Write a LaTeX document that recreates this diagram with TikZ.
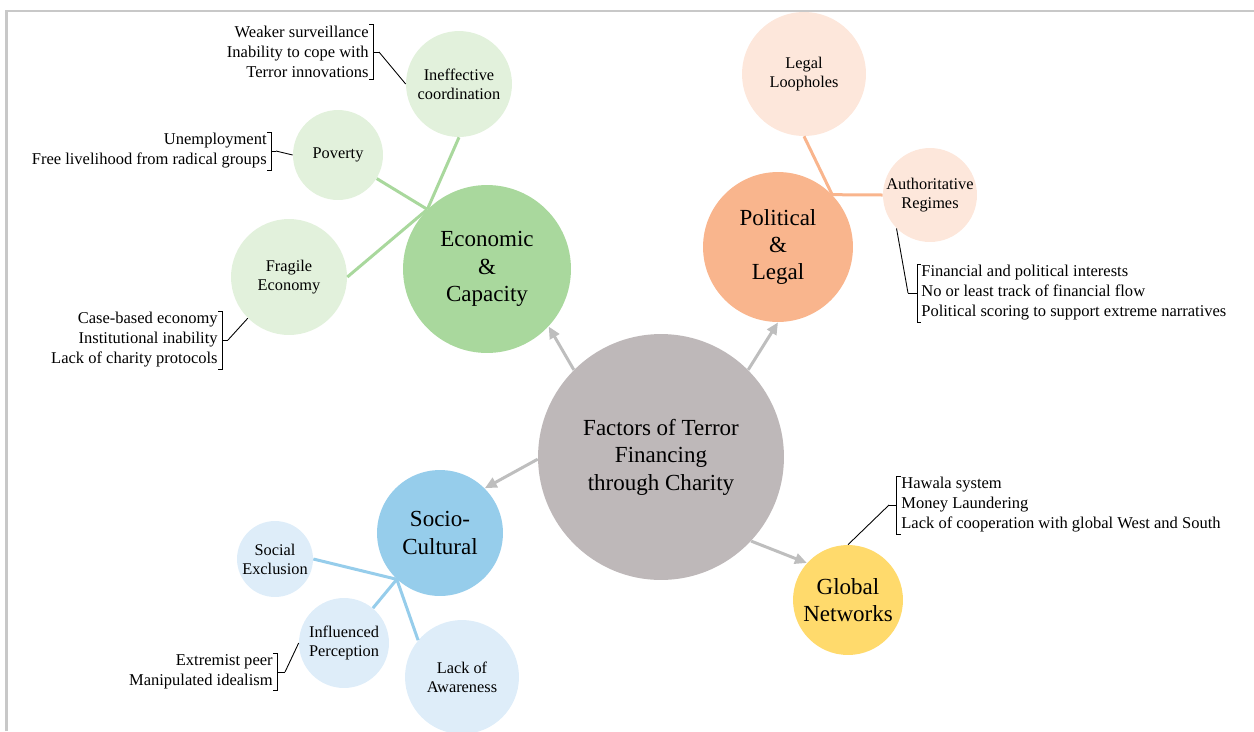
\documentclass[tikz,border=0pt]{standalone}
\usepackage{fontspec}
\setmainfont{Liberation Serif}
\usetikzlibrary{arrows.meta}

\definecolor{facgrey}{RGB}{190,184,185}
\definecolor{ecodark}{RGB}{169,216,157}
\definecolor{ecolight}{RGB}{226,241,220}
\definecolor{poldark}{RGB}{249,181,141}
\definecolor{pollight}{RGB}{253,231,219}
\definecolor{socdark}{RGB}{150,205,235}
\definecolor{soclight}{RGB}{222,237,249}
\definecolor{globdark}{RGB}{255,218,108}
\definecolor{arrgrey}{RGB}{190,190,190}
\definecolor{framegrey}{RGB}{200,200,200}

\tikzset{
  bub/.style={circle, inner sep=0pt, minimum size=#1*0.04cm, align=center},
  mainc/.style={bub=#1, font=\fontsize{13.1}{15.6}\selectfont},
  subc/.style={bub=#1, font=\fontsize{9.3}{10.8}\selectfont}}

\begin{document}
\begin{tikzpicture}
[x=0.02cm, y=-0.02cm,
 note/.style={inner xsep=0pt, inner ysep=0.6pt, font=\fontsize{9.4}{11.4}\selectfont},
 link/.style={line width=0.06cm},
 brk/.style={draw=black, line width=0.5pt},
 arr/.style={draw=arrgrey, line width=0.06cm, -{Triangle[length=0.24cm,width=0.21cm,fill=arrgrey]}}]
\useasboundingbox (0,0) rectangle (1254,731);
\draw [framegrey, line width=0.05cm] (6.5,731) -- (6.5,11) -- (1254,11);

\node (fac) at (661,457) [mainc=123, fill=facgrey] {Factors of Terror\\Financing\\through Charity};
\node (eco) at (487,269) [mainc=84, fill=ecodark] {Economic\\\&\\Capacity};
\node (pol) at (778,247) [mainc=75, fill=poldark] {Political\\\&\\Legal};
\node (soc) at (440,533) [mainc=63, fill=socdark] {Socio-\\Cultural};
\node (glob) at (848,600) [mainc=55, fill=globdark] {Global\\Networks};
\draw [arr] (fac.135) to (eco.-43);
\draw [arr] (fac.45) to (pol.south);
\draw [arr] (fac.181) to (soc.45);
\draw [arr] (fac.-43) to (glob.138);

\node (ineff) at (459,84) [subc=53, fill=ecolight] {Ineffective\\coordination};
\node (pov) at (338,155) [subc=45, fill=ecolight] {Poverty};
\node (frag) at (289,277) [subc=58, fill=ecolight] {Fragile\\Economy};
\coordinate (ehub) at (eco.135);
\draw [link, ecodark] (ehub) to (ineff.south);
\draw [link, ecodark] (ehub) to (pov);
\draw [link, ecodark] (ehub) to (frag.east);

\node (loop) at (804,74) [subc=62, fill=pollight] {Legal\\Loopholes};
\node (auth) at (930,195) [subc=47, fill=pollight] {Authoritative\\Regimes};
\coordinate (phub) at (pol.44);
\draw [link, poldark] (phub) to (loop.south);
\draw [link, poldark] (phub) to (auth.west);

\node (excl) at (275,559) [subc=38, fill=soclight] {Social\\Exclusion};
\node (infl) at (344,643) [subc=45, fill=soclight] {Influenced\\Perception};
\node (lack) at (462,677) [subc=57, fill=soclight] {Lack of\\Awareness};
\coordinate (shub) at (soc.227);
\draw [link, socdark] (shub) to (excl.east);
\draw [link, socdark] (shub) to (infl);
\draw [link, socdark] (shub) to (lack.140);

\node (ineffn) at (369,52) [note, anchor=east, align=right] {Weaker surveillance\\Inability to cope with\\Terror innovations};
\draw [brk] (ineffn.north east) -- ++(4,0) |- (ineffn.south east);
\draw [brk] (ineffn.east) ++(4,0) -- ++(6,0) coordinate (ineffk);
\draw [brk] (ineffk) to (ineff.west);

\node (povn) at (267,151) [note, anchor=east, align=right] {Unemployment\\Free livelihood from radical groups};
\draw [brk] (povn.north east) -- ++(4,0) |- (povn.south east);
\draw [brk] (povn.east) ++(4,0) -- ++(5,0) coordinate (povk);
\draw [brk] (povk) to (pov.west);

\node (fragn) at (218,340) [note, anchor=east, align=right] {Case-based economy\\Institutional inability\\Lack of charity protocols};
\draw [brk] (fragn.north east) -- ++(4,0) |- (fragn.south east);
\draw [brk] (fragn.east) ++(4,0) -- ++(6,0) coordinate (fragk);
\draw [brk] (fragk) to (frag.south west);

\node (authn) at (921,293) [note, anchor=west, align=left] {Financial and political interests\\No or least track of financial flow\\Political scoring to support extreme narratives};
\draw [brk] (authn.north west) -- ++(-4,0) |- (authn.south west);
\draw [brk] (authn.west) ++(-4,0) -- ++(-9,0) coordinate (authk);
\draw [brk] (authk) to (auth.south west);

\node (globn) at (901,505) [note, anchor=west, align=left] {Hawala system\\Money Laundering\\Lack of cooperation with global West and South};
\draw [brk] (globn.north west) -- ++(-5,0) |- (globn.south west);
\draw [brk] (globn.west) ++(-5,0) -- ++(-7,0) coordinate (globk);
\draw [brk] (globk) to (glob.north);

\node (infln) at (273,672) [note, anchor=east, align=right] {Extremist peer\\Manipulated idealism};
\draw [brk] (infln.north east) -- ++(4,0) |- (infln.south east);
\draw [brk] (infln.east) ++(4,0) -- ++(8,0) coordinate (inflk);
\draw [brk] (inflk) to (infl.west);
\end{tikzpicture}
\end{document}
